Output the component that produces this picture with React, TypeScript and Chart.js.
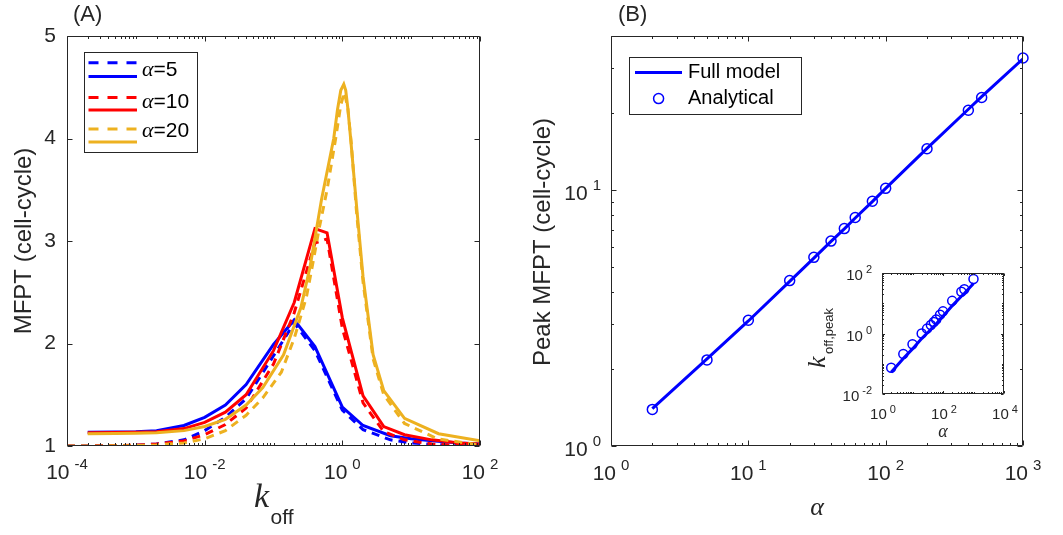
import React, { useEffect, useRef } from "react";
import { Chart, registerables } from "chart.js";

Chart.register(...registerables);

// ---------- Panel A data: k_off vs MFPT ----------
const kA5Full = [2e-4, 5e-4, 1e-3, 2e-3, 5e-3, 0.01, 0.02, 0.04, 0.1, 0.2, 0.4, 1, 2, 5, 10, 20, 50, 100];
const mfptA5Full = [1.135, 1.137, 1.14, 1.15, 1.2, 1.28, 1.4, 1.6, 1.99, 2.23, 1.97, 1.38, 1.2, 1.1, 1.07, 1.05, 1.03, 1.02];
const kA5Approx = [1e-4, 2e-4, 5e-4, 1e-3, 2e-3, 5e-3, 0.01, 0.02, 0.04, 0.1, 0.2, 0.4, 1, 2, 5, 10, 20, 50, 100];
const mfptA5Approx = [1.0, 1.001, 1.003, 1.007, 1.02, 1.06, 1.15, 1.28, 1.46, 1.88, 2.2, 1.93, 1.35, 1.16, 1.06, 1.03, 1.015, 1.005, 1.0];

const kA10Full = [2e-4, 5e-4, 1e-3, 2e-3, 5e-3, 0.01, 0.02, 0.04, 0.1, 0.2, 0.4, 0.6, 1, 2, 4, 8, 20, 50, 100];
const mfptA10Full = [1.13, 1.132, 1.135, 1.14, 1.17, 1.23, 1.33, 1.5, 1.93, 2.4, 3.12, 3.08, 2.25, 1.49, 1.19, 1.11, 1.06, 1.03, 1.02];
const kA10Approx = [1e-4, 2e-4, 5e-4, 1e-3, 2e-3, 5e-3, 0.01, 0.02, 0.04, 0.1, 0.2, 0.4, 0.6, 1, 2, 4, 8, 20, 50, 100];
const mfptA10Approx = [1.0, 1.001, 1.004, 1.008, 1.02, 1.05, 1.11, 1.21, 1.37, 1.8, 2.3, 2.98, 3.02, 2.15, 1.42, 1.14, 1.06, 1.02, 1.005, 1.0];

const kA20Full = [2e-4, 5e-4, 1e-3, 2e-3, 5e-3, 0.01, 0.02, 0.04, 0.07, 0.14, 0.25, 0.34, 0.5, 0.75, 0.85, 0.95, 1.05, 1.12, 1.2, 1.32, 1.6, 2.0, 2.8, 4, 8, 25, 100];
const mfptA20Full = [1.12, 1.122, 1.125, 1.13, 1.15, 1.19, 1.26, 1.4, 1.57, 1.89, 2.35, 2.75, 3.41, 4.0, 4.28, 4.47, 4.53, 4.47, 4.3, 4.0, 3.36, 2.65, 1.89, 1.54, 1.27, 1.12, 1.05];
const kA20Approx = [1e-4, 2e-4, 5e-4, 1e-3, 2e-3, 5e-3, 0.01, 0.02, 0.04, 0.07, 0.13, 0.2, 0.3, 0.37, 0.46, 0.6, 0.8, 0.95, 1.07, 1.2, 1.35, 1.6, 2.0, 2.8, 4, 8, 24, 100];
const mfptA20Approx = [1.0, 1.0, 1.002, 1.004, 1.01, 1.03, 1.07, 1.15, 1.3, 1.47, 1.72, 2.05, 2.45, 2.77, 3.12, 3.5, 4.0, 4.33, 4.45, 4.3, 3.95, 3.3, 2.6, 1.85, 1.5, 1.22, 1.07, 1.01];

const legendAlphaLabels = ["5", "10", "20"];

// ---------- Panel B data: peak MFPT vs alpha ----------
const alphaB = [2, 5, 10, 20, 30, 40, 50, 60, 80, 100, 200, 400, 500, 1000];
const peakFullModel = [1.4, 2.19, 3.08, 4.4, 5.42, 6.3, 7.05, 7.78, 9.02, 10.15, 14.55, 20.7, 23.2, 32.6];
const peakAnalytical = [1.39, 2.17, 3.1, 4.43, 5.46, 6.32, 7.07, 7.81, 9.04, 10.16, 14.5, 20.5, 23.0, 32.8];
const kPeakFullModel = [0.052, 0.15, 0.31, 0.68, 1.02, 1.35, 1.7, 2.05, 2.9, 3.7, 8.2, 17, 21, 45];
const kPeakAnalytical = [0.074, 0.21, 0.44, 1.0, 1.45, 1.9, 2.4, 2.9, 4.2, 5.4, 12, 24, 29, 63];
const legendBLabels = ["Full model", "Analytical"];

// ---------- Ticks ----------
const xTickExpA = [-4, -2, 0, 2];
const yTickA = [1, 2, 3, 4, 5];
const xTickExpB = [0, 1, 2, 3];
const yTickExpB = [0, 1];
const xTickExpInset = [0, 2, 4];
const yTickExpInset = [-2, 0, 2];

// ---------- Style ----------
const W = 1063;
const H = 535;
const BLUE = "#0000FF";
const RED = "#FF0000";
const GOLD = "#EDB120";
const AX = "#262626";
const SANS = '"Liberation Sans", Arial, Helvetica, sans-serif';
const SERIF = '"Liberation Serif", "Times New Roman", serif';

const pts = (xs: number[], ys: number[]) => xs.map((x, i) => ({ x, y: ys[i] }));

function logMinors(minExp: number, maxExp: number, majorExps: number[], maxVal: number) {
  const out: number[] = [];
  for (let e = minExp; e <= maxExp; e++) {
    for (let m = 1; m < 10; m++) {
      if (m === 1 && majorExps.includes(e)) continue;
      const v = m * Math.pow(10, e);
      if (v <= maxVal * 1.0001 && v >= Math.pow(10, minExp)) out.push(v);
    }
  }
  return out;
}

function drawFrame(chart: any, xMaj: number[], xMin: number[], yMaj: number[], yMin: number[], majLen: number, minLen: number) {
  const { ctx, chartArea: a } = chart;
  const xs = chart.scales.x;
  const ys = chart.scales.y;
  const L = Math.round(a.left) + 0.5;
  const R = Math.round(a.right) - 0.5;
  const T = Math.round(a.top) + 0.5;
  const B = Math.round(a.bottom) - 0.5;
  ctx.save();
  ctx.strokeStyle = AX;
  ctx.lineWidth = 1;
  ctx.setLineDash([]);
  ctx.beginPath();
  const tick = (vals: number[], len: number, isX: boolean) => {
    for (const v of vals) {
      if (isX) {
        const p = Math.round(xs.getPixelForValue(v)) + 0.5;
        ctx.moveTo(p, B); ctx.lineTo(p, B - len);
        ctx.moveTo(p, T); ctx.lineTo(p, T + len);
      } else {
        const p = Math.round(ys.getPixelForValue(v)) + 0.5;
        ctx.moveTo(L, p); ctx.lineTo(L + len, p);
        ctx.moveTo(R, p); ctx.lineTo(R - len, p);
      }
    }
  };
  tick(xMaj, majLen, true);
  tick(xMin, minLen, true);
  tick(yMaj, majLen, false);
  tick(yMin, minLen, false);
  ctx.rect(L, T, R - L, B - T);
  ctx.stroke();
  ctx.restore();
}

function drawPow(ctx: CanvasRenderingContext2D, x: number, y: number, exp: string, bs: number, es: number, align: "center" | "right", gap: number, rise: number) {
  ctx.font = `${bs}px ${SANS}`;
  const w1 = ctx.measureText("10").width;
  ctx.font = `${es}px ${SANS}`;
  const w2 = ctx.measureText(exp).width;
  const total = w1 + gap + w2;
  const x0 = align === "center" ? x - total / 2 : x - total;
  ctx.fillStyle = AX;
  ctx.textAlign = "left";
  ctx.textBaseline = "middle";
  ctx.font = `${bs}px ${SANS}`;
  ctx.fillText("10", x0, y);
  ctx.font = `${es}px ${SANS}`;
  ctx.fillText(exp, x0 + w1 + gap, y - rise);
}

function rotatedText(ctx: CanvasRenderingContext2D, text: string, cx: number, cy: number, font: string) {
  ctx.save();
  ctx.translate(cx, cy);
  ctx.rotate(-Math.PI / 2);
  ctx.font = font;
  ctx.fillStyle = AX;
  ctx.textAlign = "center";
  ctx.textBaseline = "middle";
  ctx.fillText(text, 0, 0);
  ctx.restore();
}

// ---------- Panel A plugin ----------
const panelAPlugin = {
  id: "panelA",
  afterDraw(chart: any) {
    const ctx: CanvasRenderingContext2D = chart.ctx;
    const xs = chart.scales.x;
    const ys = chart.scales.y;
    const a = chart.chartArea;
    const xMaj = xTickExpA.map((e) => Math.pow(10, e));
    drawFrame(chart, xMaj, logMinors(-4, 2, xTickExpA, 100), yTickA, [], 5, 2.5);
    ctx.save();
    // tick labels
    for (const e of xTickExpA) drawPow(ctx, xs.getPixelForValue(Math.pow(10, e)), 473, String(e), 21, 15, "center", 5, 8);
    ctx.font = `21px ${SANS}`;
    ctx.fillStyle = AX;
    ctx.textAlign = "right";
    ctx.textBaseline = "middle";
    for (const v of yTickA) ctx.fillText(String(v), a.left - 11, ys.getPixelForValue(v));
    // axis titles
    rotatedText(ctx, "MFPT (cell-cycle)", 24, 241, `24px ${SANS}`);
    ctx.textAlign = "left";
    ctx.textBaseline = "alphabetic";
    ctx.fillStyle = AX;
    ctx.font = `italic 34px ${SERIF}`;
    ctx.fillText("k", 254, 507);
    ctx.font = `21px ${SANS}`;
    ctx.fillText("off", 270.5, 524);
    // panel label
    ctx.font = `22px ${SANS}`;
    ctx.textBaseline = "middle";
    ctx.fillText("(A)", 73, 15);
    // legend
    ctx.fillStyle = "#fff";
    ctx.fillRect(84.5, 52.5, 113, 100);
    ctx.strokeStyle = AX;
    ctx.lineWidth = 1;
    ctx.strokeRect(84.5, 52.5, 113, 100);
    const cols = [BLUE, RED, GOLD];
    const dashY = [62.7, 97.5, 129];
    const solidY = [76.5, 110, 142];
    const labY = [70, 102, 131];
    ctx.lineWidth = 3;
    for (let i = 0; i < 3; i++) {
      ctx.strokeStyle = cols[i];
      ctx.setLineDash([10, 9]);
      ctx.beginPath(); ctx.moveTo(88.5, dashY[i]); ctx.lineTo(137, dashY[i]); ctx.stroke();
      ctx.setLineDash([]);
      ctx.beginPath(); ctx.moveTo(88.5, solidY[i]); ctx.lineTo(137, solidY[i]); ctx.stroke();
      ctx.fillStyle = "#000";
      ctx.textBaseline = "middle";
      ctx.font = `italic 22px ${SERIF}`;
      ctx.fillText("\u03b1", 142, labY[i]);
      const wa = ctx.measureText("\u03b1").width;
      ctx.font = `21px ${SANS}`;
      ctx.fillText("=" + legendAlphaLabels[i], 142 + wa, labY[i]);
    }
    ctx.restore();
  },
};

// ---------- Panel B plugin ----------
const panelBPlugin = {
  id: "panelB",
  afterDraw(chart: any) {
    const ctx: CanvasRenderingContext2D = chart.ctx;
    const xs = chart.scales.x;
    const ys = chart.scales.y;
    const a = chart.chartArea;
    drawFrame(
      chart,
      xTickExpB.map((e) => Math.pow(10, e)),
      logMinors(0, 2, xTickExpB, 1000),
      yTickExpB.map((e) => Math.pow(10, e)),
      logMinors(0, 1, yTickExpB, 40),
      5,
      2.5
    );
    ctx.save();
    for (const e of xTickExpB) drawPow(ctx, xs.getPixelForValue(Math.pow(10, e)), 474, String(e), 21, 15, "center", 5, 8);
    for (const e of yTickExpB) drawPow(ctx, a.left - 10, ys.getPixelForValue(Math.pow(10, e)) + 4, String(e), 21, 15, "right", 5, 8);
    rotatedText(ctx, "Peak MFPT (cell-cycle)", 543, 242, `24px ${SANS}`);
    ctx.fillStyle = AX;
    ctx.font = `italic 26px ${SERIF}`;
    ctx.textAlign = "center";
    ctx.textBaseline = "alphabetic";
    ctx.fillText("\u03b1", (a.left + a.right) / 2, 515);
    ctx.font = `22px ${SANS}`;
    ctx.textAlign = "left";
    ctx.textBaseline = "middle";
    ctx.fillText("(B)", 618, 15);
    // legend
    ctx.fillStyle = "#fff";
    ctx.fillRect(629.5, 57.5, 172, 57);
    ctx.strokeStyle = AX;
    ctx.lineWidth = 1;
    ctx.strokeRect(629.5, 57.5, 172, 57);
    ctx.strokeStyle = BLUE;
    ctx.lineWidth = 3;
    ctx.beginPath(); ctx.moveTo(635, 72.5); ctx.lineTo(682, 72.5); ctx.stroke();
    ctx.lineWidth = 1.5;
    ctx.beginPath(); ctx.arc(658.6, 98.6, 5, 0, Math.PI * 2); ctx.stroke();
    ctx.fillStyle = "#000";
    ctx.font = `20px ${SANS}`;
    ctx.fillText(legendBLabels[0], 688, 72.5);
    ctx.fillText(legendBLabels[1], 688, 98.6);
    ctx.restore();
  },
};

// ---------- Inset plugin ----------
const insetPlugin = {
  id: "inset",
  beforeDraw(chart: any) {
    const { ctx, chartArea: a } = chart;
    ctx.save();
    ctx.fillStyle = "#fff";
    ctx.fillRect(a.left, a.top, a.right - a.left, a.bottom - a.top);
    ctx.restore();
  },
  afterDraw(chart: any) {
    const ctx: CanvasRenderingContext2D = chart.ctx;
    const xs = chart.scales.x;
    const ys = chart.scales.y;
    const a = chart.chartArea;
    drawFrame(
      chart,
      xTickExpInset.map((e) => Math.pow(10, e)),
      logMinors(0, 3, xTickExpInset, 1e4),
      yTickExpInset.map((e) => Math.pow(10, e)),
      logMinors(-2, 1, yTickExpInset, 100),
      2.5,
      1.5
    );
    ctx.save();
    for (const e of xTickExpInset) drawPow(ctx, xs.getPixelForValue(Math.pow(10, e)) + 1, 415, String(e), 15, 11, "center", 3, 5);
    for (const e of yTickExpInset) drawPow(ctx, a.left - 10, ys.getPixelForValue(Math.pow(10, e)) + 3, String(e), 15, 11, "right", 3, 6);
    ctx.fillStyle = AX;
    ctx.font = `italic 18px ${SERIF}`;
    ctx.textAlign = "center";
    ctx.textBaseline = "alphabetic";
    ctx.fillText("\u03b1", (a.left + a.right) / 2, 437);
    // rotated k_off,peak
    ctx.translate(825, 368);
    ctx.rotate(-Math.PI / 2);
    ctx.textAlign = "left";
    ctx.font = `italic 26px ${SERIF}`;
    ctx.fillText("k", 0, 0);
    ctx.font = `13px ${SANS}`;
    ctx.fillText("off,peak", 14, 8);
    ctx.restore();
  },
};

function lineDs(xs: number[], ys: number[], color: string, dashed: boolean, order: number) {
  return {
    data: pts(xs, ys),
    borderColor: color,
    backgroundColor: color,
    borderWidth: 3,
    borderDash: dashed ? [8, 6] : [],
    pointRadius: 0,
    tension: 0,
    fill: false,
    order,
  };
}

const baseOptions = (pad: { left: number; right: number; top: number; bottom: number }, x: any, y: any) => ({
  responsive: false,
  animation: false as const,
  devicePixelRatio: 1,
  events: [] as any[],
  layout: { padding: pad },
  scales: { x: { ...x, display: false }, y: { ...y, display: false } },
  plugins: { legend: { display: false }, tooltip: { enabled: false } },
});

export default function App() {
  const aRef = useRef<HTMLCanvasElement>(null);
  const bRef = useRef<HTMLCanvasElement>(null);
  const iRef = useRef<HTMLCanvasElement>(null);

  useEffect(() => {
    const chartA = new Chart(aRef.current as HTMLCanvasElement, {
      type: "line",
      data: {
        datasets: [
          lineDs(kA5Approx, mfptA5Approx, BLUE, true, 6),
          lineDs(kA5Full, mfptA5Full, BLUE, false, 5),
          lineDs(kA10Approx, mfptA10Approx, RED, true, 4),
          lineDs(kA10Full, mfptA10Full, RED, false, 3),
          lineDs(kA20Approx, mfptA20Approx, GOLD, true, 2),
          lineDs(kA20Full, mfptA20Full, GOLD, false, 1),
        ] as any,
      },
      options: baseOptions(
        { left: 67, right: W - 480, top: 36, bottom: H - 446 },
        { type: "logarithmic", min: 1e-4, max: 100 },
        { type: "linear", min: 1, max: 5 }
      ) as any,
      plugins: [panelAPlugin],
    });

    const chartB = new Chart(bRef.current as HTMLCanvasElement, {
      type: "line",
      data: {
        datasets: [
          { ...lineDs(alphaB, peakFullModel, BLUE, false, 2) },
          {
            data: pts(alphaB, peakAnalytical),
            showLine: false,
            borderColor: BLUE,
            backgroundColor: "rgba(0,0,0,0)",
            pointRadius: 5,
            pointBorderWidth: 1.5,
            pointBorderColor: BLUE,
            pointBackgroundColor: "rgba(0,0,0,0)",
            clip: false,
            order: 1,
          },
        ] as any,
      },
      options: baseOptions(
        { left: 611, right: W - 1023, top: 36, bottom: H - 446 },
        { type: "logarithmic", min: 1, max: 1000 },
        { type: "logarithmic", min: 1, max: 40 }
      ) as any,
      plugins: [panelBPlugin],
    });

    const chartI = new Chart(iRef.current as HTMLCanvasElement, {
      type: "line",
      data: {
        datasets: [
          { ...lineDs(alphaB, kPeakFullModel, BLUE, false, 2) },
          {
            data: pts(alphaB, kPeakAnalytical),
            showLine: false,
            borderColor: BLUE,
            backgroundColor: "rgba(0,0,0,0)",
            pointRadius: 4.5,
            pointBorderWidth: 1.5,
            pointBorderColor: BLUE,
            pointBackgroundColor: "rgba(0,0,0,0)",
            clip: false,
            order: 1,
          },
        ] as any,
      },
      options: baseOptions(
        { left: 882, right: W - 1004, top: 273, bottom: H - 394 },
        { type: "logarithmic", min: 1, max: 1e4 },
        { type: "logarithmic", min: 0.01, max: 100 }
      ) as any,
      plugins: [insetPlugin],
    });

    return () => {
      chartA.destroy();
      chartB.destroy();
      chartI.destroy();
    };
  }, []);

  const cs: React.CSSProperties = { position: "absolute", left: 0, top: 0, width: W, height: H };
  return (
    <div style={{ position: "absolute", left: 0, top: 0, width: W, height: H, background: "#fff" }}>
      <canvas ref={aRef} width={W} height={H} style={cs} />
      <canvas ref={bRef} width={W} height={H} style={cs} />
      <canvas ref={iRef} width={W} height={H} style={cs} />
    </div>
  );
}
